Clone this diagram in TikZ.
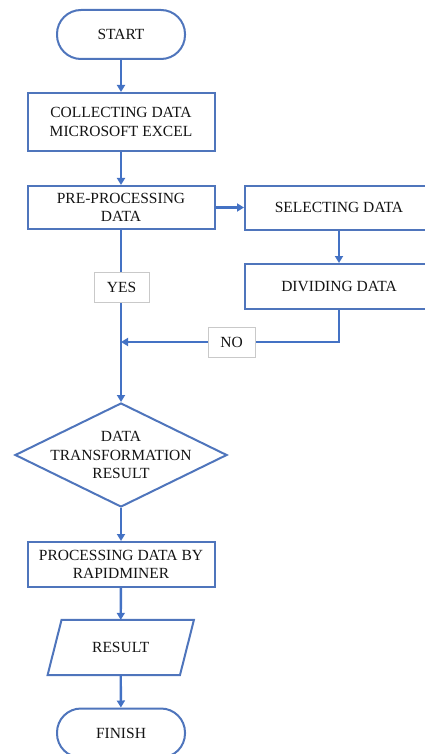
\documentclass[tikz,border=0pt]{standalone}
\usepackage{fontspec}
\setmainfont{Liberation Serif}
\usetikzlibrary{shapes.geometric,arrows.meta}
\definecolor{lineblue}{HTML}{4472C4}
\definecolor{boxblue}{HTML}{4F75BC}
\definecolor{lblgray}{HTML}{C9C9C9}
\definecolor{txtc}{HTML}{141414}
\begin{document}
\begin{tikzpicture}[x=1pt,y=-1pt,
  every node/.style={font=\fontsize{15.5}{18.5}\selectfont, text=txtc, align=center},
  procbox/.style={draw=boxblue, line width=2pt, fill=white, inner sep=0pt, minimum width=187pt},
  term/.style={draw=boxblue, line width=2pt, rounded corners=24pt, inner sep=0pt, minimum width=128pt, minimum height=49pt},
  dia/.style={draw=boxblue, line width=2pt, shape=diamond, inner sep=0pt, minimum width=212pt, minimum height=104pt, aspect=2.04},
  lbl/.style={draw=lblgray, line width=1pt, fill=white, inner sep=0pt},
  conn/.style={draw=lineblue, line width=2.4pt, -{Triangle[length=7pt,width=8pt]}}
]
\useasboundingbox (0,0) rectangle (425,754);
\clip (0,0) rectangle (425,754);

\node[term] (start) at (121,34.5) {START};
\node[procbox, minimum height=58pt] (collect) at (121,122) {COLLECTING DATA\\MICROSOFT EXCEL};
\node[procbox, minimum height=43pt] (pre) at (121,207.5) {PRE-PROCESSING\\DATA};
\node[procbox, minimum width=188pt, minimum height=44pt] (sel) at (339,207.5) {SELECTING DATA};
\node[procbox, minimum width=188pt, minimum height=45pt] (div) at (339,286.5) {DIVIDING DATA};
\node[dia] (dec) at (121,455) {};
\node (dectext) at (dec.center) {DATA\\TRANSFORMATION\\RESULT};
\node[procbox, minimum height=45pt] (proc) at (121,564.5) {PROCESSING DATA BY\\RAPIDMINER};
\node[minimum width=132pt, minimum height=55pt, inner sep=0pt] (res) at (120.75,647.5) {RESULT};
\draw[boxblue, line width=2pt, line join=miter]
  ([xshift=7pt]res.north west) -- ([xshift=7pt]res.north east)
  -- ([xshift=-7pt]res.south east) -- ([xshift=-7pt]res.south west) -- cycle;
\node[term] (fin) at (121,733) {FINISH};
\coordinate (join) at (121,342);

\draw[conn] (start) -- (collect);
\draw[conn] (collect) -- (pre);
\draw[conn] (pre) -- (sel);
\draw[conn] (sel) -- (div);
\draw[conn] (pre) -- (dec.north);
\draw[conn] (div.south) |- (join);
\draw[conn] (dec.south) -- (proc);
\draw[conn] (proc) -- (res.north);
\draw[conn] (res.south) -- (fin);

\node[lbl, minimum width=55pt, minimum height=30pt] (yes) at (121.5,287) {YES};
\node[lbl, minimum width=47pt, minimum height=30pt] (no) at (231.5,342) {NO};
\end{tikzpicture}
\end{document}
